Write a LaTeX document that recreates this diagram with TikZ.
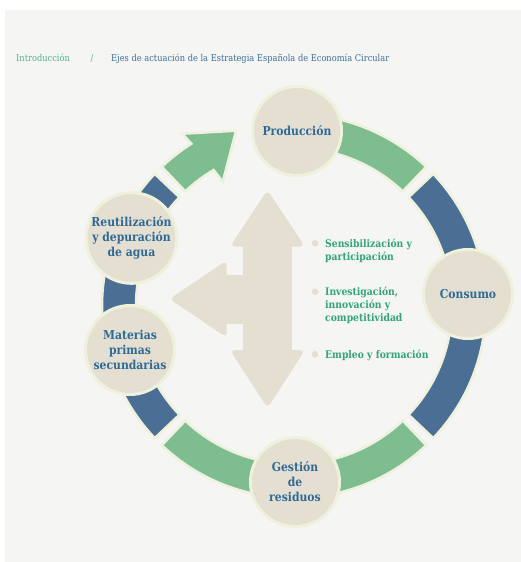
\documentclass[tikz,border=0pt]{standalone}
\usepackage{fontspec}
\setmainfont{DejaVu Serif}[FakeStretch=0.88]
\usetikzlibrary{calc}
\definecolor{bg}{HTML}{F5F5F3}
\definecolor{ringgreen}{HTML}{7DBD8F}
\definecolor{ringblue}{HTML}{4B6E94}
\definecolor{beige}{HTML}{E4DFD0}
\definecolor{cream}{HTML}{EEF1DC}
\definecolor{labelblue}{HTML}{2E6A98}
\definecolor{listgreen}{HTML}{2FA77A}
\definecolor{hdrgreen}{HTML}{52B288}
\definecolor{hdrblue}{HTML}{3D6F97}
\tikzset{
  stage/.style={circle, fill=beige, draw=cream, line width=3, minimum size=89, inner sep=0,
    text=labelblue, align=center, font=\bfseries\fontsize{12.3}{15}\selectfont},
  seg/.style={draw=cream, line width=2.5, line join=miter},
  listtxt/.style={anchor=north west, inner sep=0, align=left, text=listgreen,
    font=\bfseries\fontsize{10.5}{13}\selectfont},
  bullet/.style={circle, fill=beige, inner sep=0, minimum size=6.6},
  hdr/.style={anchor=base west, inner sep=0, font=\fontsize{9.4}{11}\selectfont},
  centre/.style={fill=beige}
}
\begin{document}
\begin{tikzpicture}[x=1pt,y=-1pt]
\useasboundingbox (0,0) rectangle (521,562);
\fill[bg] (5,10) rectangle (521,562);

% header
\node[hdr, text=hdrgreen] (intro) at (16,61.5) {Introducción};
\node[hdr, text=hdrgreen, anchor=base] (slash) at (92,61.5) {/};
\node[hdr, text=hdrblue] (ejes) at (111,61.5) {Ejes de actuación de la Estrategia Española de Economía Circular};

% ring
\begin{scope}[shift={(294,306)}]
  \path[seg, fill=ringgreen] (-88:192) arc[start angle=-88, end angle=-46.5, radius=192]
     -- (-46.5:158) arc[start angle=-46.5, end angle=-88, radius=158] -- cycle;
  \path[seg, fill=ringblue] (-43.5:192) arc[start angle=-43.5, end angle=43.5, radius=192]
     -- (43.5:158) arc[start angle=43.5, end angle=-43.5, radius=158] -- cycle;
  \path[seg, fill=ringgreen] (46.5:192) arc[start angle=46.5, end angle=133.5, radius=192]
     -- (133.5:158) arc[start angle=133.5, end angle=46.5, radius=158] -- cycle;
  \path[seg, fill=ringblue] (136.5:192) arc[start angle=136.5, end angle=223.5, radius=192]
     -- (223.5:158) arc[start angle=223.5, end angle=136.5, radius=158] -- cycle;
  % arrow
  \path[seg, fill=ringgreen] (-133.5:192) arc[start angle=-133.5, end angle=-122.3, radius=192]
     -- (-123:205.4) -- (-108.3:184.6) -- (-119.8:143.3) -- (-120.6:158)
     arc[start angle=-120.6, end angle=-133.5, radius=158] -- cycle;
\end{scope}

% stages
\node[stage] (prod) at (297,131) {Producción};
\node[stage] (cons) at (468,294) {Consumo};
\node[stage] (gest) at (295,482) {Gestión\\de\\residuos};
\node[stage] (reut) at (131.5,238) {Reutilización\\y depuración\\de agua};
\node[stage] (mat) at (130,350) {Materias\\primas\\secundarias};

% central arrows
\fill[centre] (243.3,244) rectangle (291.7,352);
\fill[centre] (224,275) rectangle (245,324);
\fill[centre, rounded corners=5] (267.5,190) -- (305,246.7) -- (230,246.7) -- cycle;
\fill[centre, rounded corners=5] (267.5,408) -- (305,350) -- (230,350) -- cycle;
\fill[centre, rounded corners=5] (169.3,299) -- (226.7,260.5) -- (226.7,337.5) -- cycle;

% list
\node[bullet] (b1) at (315,243.3) {};
\node[bullet] (b2) at (315,291.7) {};
\node[bullet] (b3) at (315,354.3) {};
\node[listtxt] (l1) at (325,238.5) {Sensibilización y\\participación};
\node[listtxt] (l2) at (325,287) {Investigación,\\innovación y\\competitividad};
\node[listtxt] (l3) at (325,349.5) {Empleo y formación};
\end{tikzpicture}
\end{document}
